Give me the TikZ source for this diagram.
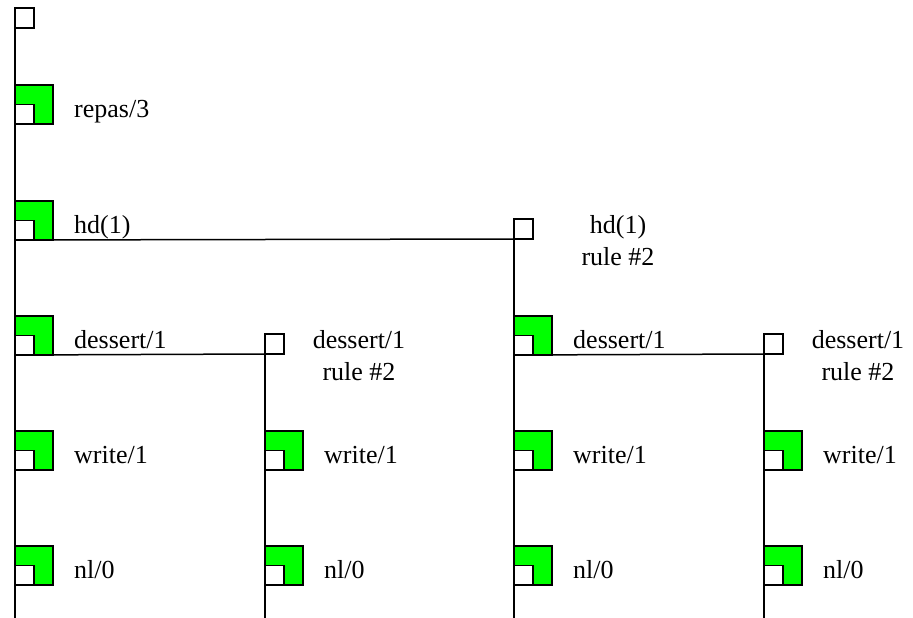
\documentclass[tikz,border=0pt]{standalone}
\usepackage{fontspec}
\setmainfont{Liberation Serif}
\usetikzlibrary{backgrounds}
\definecolor{lgreen}{RGB}{0,255,0}
\begin{document}
\begin{tikzpicture}[x=1pt,y=-1pt,
  ln/.style={line width=1.5pt},
  gbox/.style={draw, line width=1.5pt, fill=lgreen, minimum width=38pt, minimum height=39pt, inner sep=0pt, outer sep=0pt, anchor=north west},
  wbox/.style={draw, line width=1.5pt, fill=white, minimum width=19pt, minimum height=19.5pt, inner sep=0pt, outer sep=0pt, anchor=south west},
  sbox/.style={draw, line width=1.5pt, fill=white, minimum width=19pt, minimum height=20pt, inner sep=0pt, outer sep=0pt, anchor=south west},
  lbl/.style={font=\fontsize{26}{32}\selectfont, inner sep=0pt, anchor=base west},
  rlbl/.style={font=\fontsize{26}{32}\selectfont, inner sep=0pt, anchor=base, align=center}]
\useasboundingbox (0,0) rectangle (913,618);
% bottom ends
\coordinate (e1) at (15,618);
\coordinate (e2) at (265,618);
\coordinate (e3) at (514,618);
\coordinate (e4) at (764,618);
% top box
\node[sbox] (top) at (15,28) {};
% rule boxes
\node[sbox] (rhd) at (514,239) {};
\node[sbox] (rd2) at (265,354) {};
\node[sbox] (rd4) at (764,354) {};
% green boxes: column 1
\node[gbox] (a1) at (15,85) {};
\node[gbox] (a2) at (15,201) {};
\node[gbox] (a3) at (15,316) {};
\node[gbox] (a4) at (15,431) {};
\node[gbox] (a5) at (15,546) {};
% column 2
\node[gbox] (b4) at (265,431) {};
\node[gbox] (b5) at (265,546) {};
% column 3
\node[gbox] (c3) at (514,316) {};
\node[gbox] (c4) at (514,431) {};
\node[gbox] (c5) at (514,546) {};
% column 4
\node[gbox] (d4) at (764,431) {};
\node[gbox] (d5) at (764,546) {};
% white inner squares
\foreach \n in {a1,a2,a3,a4,a5,b4,b5,c3,c4,c5,d4,d5}{
  \node[wbox] (w\n) at (\n.south west) {};
}
% connectors behind boxes
\begin{scope}[on background layer]
\draw[ln] (top.south west) -- (e1);
\draw[ln] (a2.south west) -- (rhd.south west);
\draw[ln] (rhd.south west) -- (e3);
\draw[ln] (a3.south west) -- (rd2.south west);
\draw[ln] (rd2.south west) -- (e2);
\draw[ln] (c3.south west) -- (rd4.south west);
\draw[ln] (rd4.south west) -- (e4);
\end{scope}
% labels
\node[lbl] (la1) at (74,117.5) {repas/3};
\node[lbl] (la2) at (74,233.5) {hd(1)};
\node[lbl] (la3) at (74,348.5) {dessert/1};
\node[lbl] (la4) at (74,463.5) {write/1};
\node[lbl] (la5) at (74,578.5) {nl/0};
\node[lbl] (lb4) at (324,463.5) {write/1};
\node[lbl] (lb5) at (324,578.5) {nl/0};
\node[lbl] (lc3) at (573,348.5) {dessert/1};
\node[lbl] (lc4) at (573,463.5) {write/1};
\node[lbl] (lc5) at (573,578.5) {nl/0};
\node[lbl] (ld4) at (823,463.5) {write/1};
\node[lbl] (ld5) at (823,578.5) {nl/0};
\node[rlbl] (lrhd) at (618,265) {hd(1)\\rule \#2};
\node[rlbl] (lrd2) at (359,380.5) {dessert/1\\rule \#2};
\node[rlbl] (lrd4) at (858,380.5) {dessert/1\\rule \#2};
\end{tikzpicture}
\end{document}
